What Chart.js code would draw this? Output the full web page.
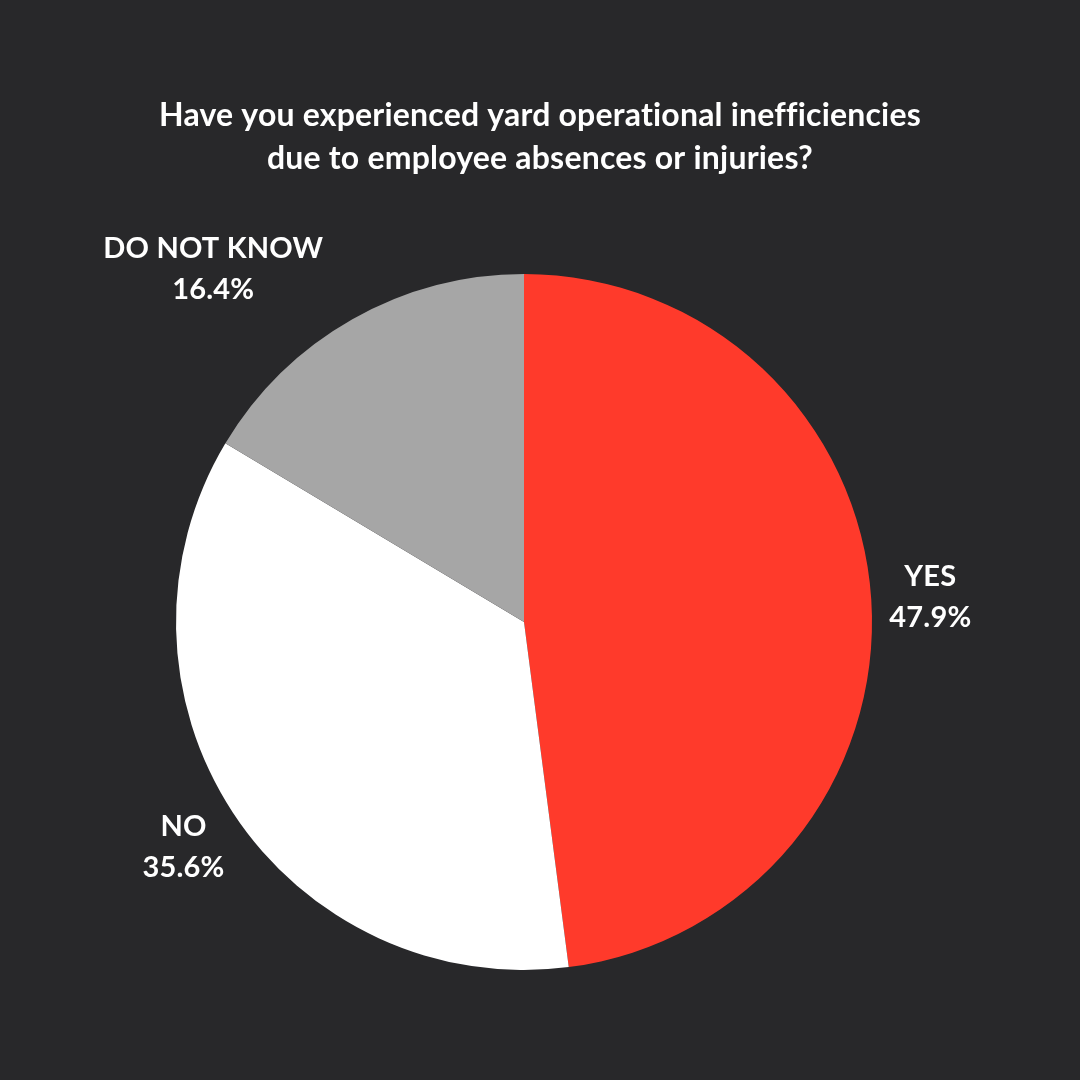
<!DOCTYPE html>
<html>
<head>
<meta charset="utf-8">
<script src="https://cdn.jsdelivr.net/npm/chart.js@4"></script>
<style>
  html, body { margin: 0; padding: 0; background: #28282a; }
  #wrap { width: 1080px; height: 1080px; }
</style>
</head>
<body>
<div id="wrap"><canvas id="pieChart" width="1080" height="1080"></canvas></div>
<script>
const TITLE_LINES = ['Have you experienced yard operational inefficiencies', 'due to employee absences or injuries?'];
const LABELS = ['YES', 'NO', 'DO NOT KNOW'];
const VALUES = [47.9, 35.6, 16.4];
const COLORS = ['#ff3a2b', '#ffffff', '#a6a6a6'];
const LABEL_ANCHOR = ['center', 'center', 'right'];

// title + outside labels
const labelPlugin = {
  id: 'outsideLabels',
  afterDraw(chart) {
    const ctx = chart.ctx;
    ctx.save();
    ctx.fillStyle = '#ffffff';
    ctx.textAlign = 'center';
    ctx.textBaseline = 'middle';
    ctx.letterSpacing = '0.2px'; // keeps "fi"/"ti" unligated like the original
    ctx.font = 'bold 32px Lato';
    TITLE_LINES.forEach((t, i) => ctx.fillText(t, 540, 116 + i * 43));

    ctx.font = 'bold 29px Lato';
    const meta = chart.getDatasetMeta(0);
    meta.data.forEach((arc, i) => {
      const mid = (arc.startAngle + arc.endAngle) / 2;
      const r = arc.outerRadius * 1.17;
      let x = arc.x + Math.cos(mid) * r;
      const y = arc.y + Math.sin(mid) * r;
      const lines = [LABELS[i], VALUES[i].toFixed(1) + '%'];
      const w = Math.max(...lines.map(l => ctx.measureText(l).width));
      if (LABEL_ANCHOR[i] === 'right') x -= w / 2;
      ctx.fillText(lines[0], x, y - 19);
      ctx.fillText(lines[1], x, y + 22);
    });
    ctx.restore();
  }
};

const chart = new Chart(document.getElementById('pieChart').getContext('2d'), {
  type: 'pie',
  data: {
    labels: LABELS,
    datasets: [{
      data: VALUES,
      backgroundColor: COLORS,
      borderWidth: 0
    }]
  },
  options: {
    responsive: false,
    animation: false,
    layout: { padding: { left: 176, right: 208, top: 274, bottom: 110 } },
    plugins: {
      legend: { display: false },
      tooltip: { enabled: false },
      title: { display: false }
    }
  },
  plugins: [labelPlugin]
});
</script>
</body>
</html>
